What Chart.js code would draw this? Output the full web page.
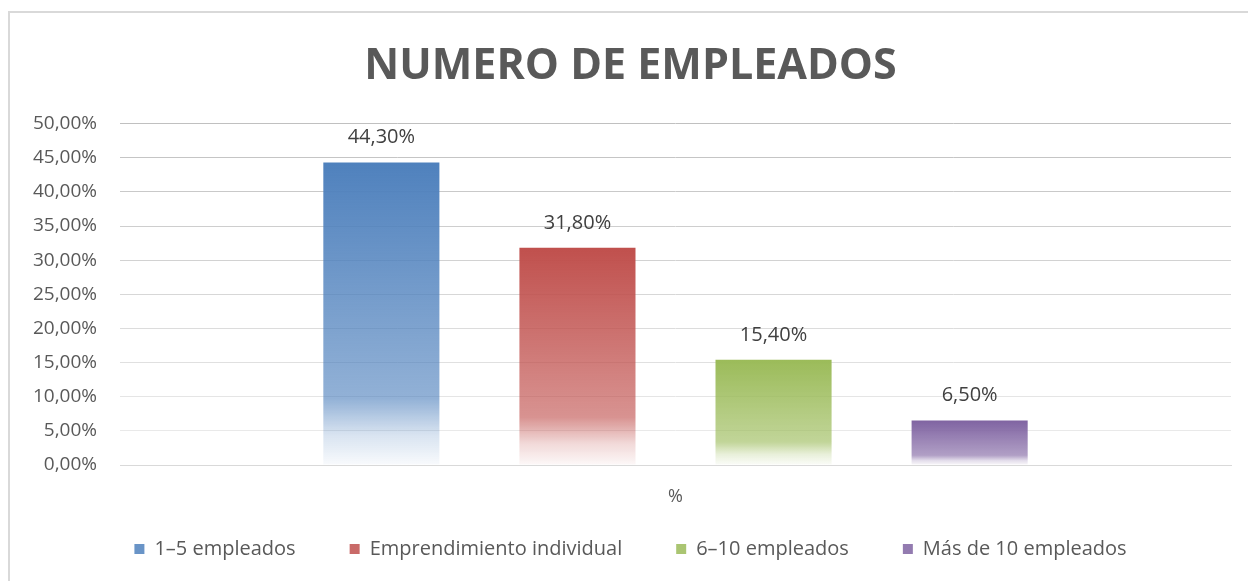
<!DOCTYPE html>
<html>
<head>
<meta charset="utf-8">
<script src="https://cdn.jsdelivr.net/npm/chart.js@4"></script>
<style>
  html, body { margin: 0; padding: 0; background: #fff; overflow: hidden; }
  #marco { position: absolute; left: 8px; top: 11px; width: 1260px; height: 600px;
           border-left: 2px solid #d9d9d9; border-top: 2px solid #d9d9d9; }
  #empleados { position: absolute; left: 0; top: 0; }
</style>
</head>
<body>
<div id="marco"></div>
<canvas id="empleados" width="1248" height="581"></canvas>
<script>
// ------------------- DATOS -------------------
const categorias = ["%"];
const series = ["1–5 empleados", "Emprendimiento individual", "6–10 empleados", "Más de 10 empleados"];
const valores = [44.3, 31.8, 15.4, 6.5];
const colores = [[79, 129, 189], [192, 80, 77], [155, 187, 89], [128, 100, 162]];
const ticksY = [0, 5, 10, 15, 20, 25, 30, 35, 40, 45, 50];

const fuente = "'Open Sans', 'DejaVu Sans', sans-serif";

function formatoPct(v) {
  return v.toFixed(2).replace(".", ",") + "%";
}

// degradado de arriba (color) hacia abajo (casi blanco), como en Excel
function degradado(ctx, rgb) {
  const chart = ctx.chart;
  const solido = "rgb(" + rgb.join(",") + ")";
  if (!chart.chartArea || ctx.raw === undefined) return solido;
  const y = chart.scales.y;
  const arriba = y.getPixelForValue(ctx.raw);
  const base = y.getPixelForValue(0);
  const g = chart.ctx.createLinearGradient(0, arriba, 0, base);
  const c = "rgba(" + rgb.join(",") + ",";
  g.addColorStop(0, c + "1)");
  g.addColorStop(0.78, c + "0.62)");
  g.addColorStop(0.9, c + "0.22)");
  g.addColorStop(1, c + "0.04)");
  return g;
}

// etiquetas encima de cada barra
const etiquetas = {
  id: "etiquetas",
  afterDatasetsDraw(chart) {
    const ctx = chart.ctx;
    ctx.save();
    ctx.font = "20px " + fuente;
    ctx.fillStyle = "#404040";
    ctx.textAlign = "center";
    ctx.textBaseline = "middle";
    chart.data.datasets.forEach((ds, i) => {
      chart.getDatasetMeta(i).data.forEach((bar, j) => {
        ctx.fillText(formatoPct(ds.data[j]), bar.x, bar.y - 25);
      });
    });
    ctx.restore();
  }
};

let canvasEmpleados = document.getElementById("empleados").getContext("2d");

let chartE = new Chart(canvasEmpleados, {
  type: "bar",
  data: {
    labels: categorias,
    datasets: series.map((nombre, i) => ({
      label: nombre,
      data: [valores[i]],
      backgroundColor: ctx => degradado(ctx, colores[i]),
      borderWidth: 0,
      categoryPercentage: 0.706,
      barPercentage: 0.592
    }))
  },
  options: {
    responsive: false,
    animation: false,
    layout: {
      padding: { top: 0, right: 17, bottom: 12, left: 30 }
    },
    plugins: {
      legend: {
        position: "bottom",
        labels: {
          boxWidth: 10,
          boxHeight: 10,
          padding: 54,
          color: "#595959",
          font: { family: fuente, size: 20 },
          generateLabels: chart => {
            const items = Chart.defaults.plugins.legend.labels.generateLabels(chart);
            items.forEach((it, i) => {
              it.fillStyle = "rgba(" + colores[i].join(",") + ",0.85)";
              it.strokeStyle = "rgba(0,0,0,0)";
              it.lineWidth = 0;
            });
            return items;
          }
        }
      },
      title: {
        display: true,
        text: "NUMERO DE EMPLEADOS",
        color: "#595959",
        font: { family: fuente, size: 43, weight: "bold" },
        padding: { top: 41, bottom: 31 }
      },
      tooltip: { enabled: false }
    },
    scales: {
      x: {
        grid: { display: false },
        border: { color: "#d9d9d9", width: 1 },
        ticks: {
          color: "#595959",
          font: { family: fuente, size: 18 },
          mirror: true,
          padding: -43
        },
        afterFit: scale => { scale.height = 20; }
      },
      y: {
        min: 0,
        max: 50,
        afterBuildTicks: scale => { scale.ticks = ticksY.map(v => ({ value: v })); },
        afterFit: scale => { scale.width = 90; },
        border: { display: false },
        grid: {
          drawTicks: false,
          lineWidth: 1,
          color: ctx => {
            const v = ctx.tick ? ctx.tick.value : 0;
            if (v === 0) return "#d9d9d9";
            const g = Math.round(238 - (v / 50) * 46);
            return "rgb(" + g + "," + g + "," + g + ")";
          }
        },
        ticks: {
          color: "#595959",
          font: { family: fuente, size: 19 },
          padding: 23,
          callback: v => formatoPct(v)
        }
      }
    }
  },
  plugins: [etiquetas]
});
</script>
</body>
</html>
